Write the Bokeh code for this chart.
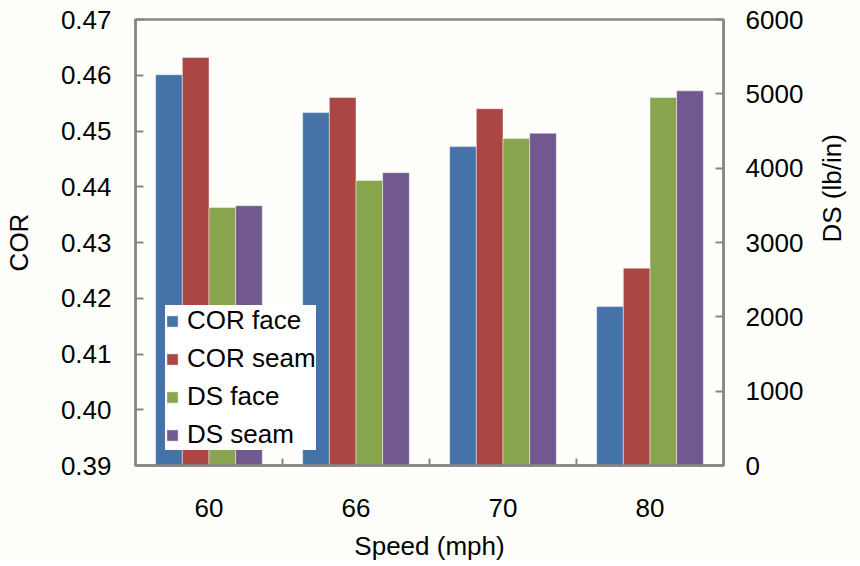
import math
from bokeh.plotting import figure
from bokeh.models import Range1d, LinearAxis, FixedTicker, NumeralTickFormatter, ColumnDataSource
from bokeh.embed import file_html
from bokeh.resources import INLINE

# ---- data ----
speeds = ["60", "66", "70", "80"]
cor_face = [0.4601, 0.4533, 0.4472, 0.4185]
cor_seam = [0.4632, 0.4560, 0.4540, 0.4254]
ds_face = [3470, 3835, 4400, 4950]
ds_seam = [3495, 3940, 4470, 5040]
cor_ticks = [0.39, 0.40, 0.41, 0.42, 0.43, 0.44, 0.45, 0.46, 0.47]
ds_ticks = [0, 1000, 2000, 3000, 4000, 5000, 6000]
series_names = ["COR face", "COR seam", "DS face", "DS seam"]
colors = ["#4572A7", "#AA4643", "#89A54E", "#71588F"]

BG = "#FEFEFA"
AX = "#878787"
FONT = "Liberation Sans"
FS = "26px"

p = figure(frame_width=588, frame_height=446,
           x_range=Range1d(0, len(speeds)), y_range=Range1d(cor_ticks[0], cor_ticks[-1]),
           output_backend="svg", toolbar_location=None,
           min_border_left=129, min_border_right=123, min_border_top=19, min_border_bottom=85,
           background_fill_color=BG, border_fill_color=BG,
           outline_line_color=AX, outline_line_width=2.5)
p.xgrid.visible = False
p.ygrid.visible = False
p.extra_y_ranges = {"ds": Range1d(ds_ticks[0], ds_ticks[-1])}

w = 0.1814
series = [(cor_face, "default"), (cor_seam, "default"), (ds_face, "ds"), (ds_seam, "ds")]
for i, (vals, rng) in enumerate(series):
    off = (i - 1.5) * w
    xs = [k + 0.5 + off for k in range(len(speeds))]
    bottom = cor_ticks[0] if rng == "default" else ds_ticks[0]
    src = ColumnDataSource(dict(x=xs, top=vals))
    p.vbar(x="x", top="top", bottom=bottom, width=w, source=src,
           fill_color=colors[i], line_color="white", line_alpha=0.45, line_width=1,
           y_range_name=rng, legend_label=series_names[i])

# x axis
xa = p.xaxis[0]
xa.ticker = FixedTicker(ticks=[k + 0.5 for k in range(len(speeds))],
                        minor_ticks=[k for k in range(1, len(speeds))])
xa.major_label_overrides = {k + 0.5: s for k, s in enumerate(speeds)}
xa.axis_label = "Speed (mph)"

# left axis
ya = p.yaxis[0]
ya.ticker = FixedTicker(ticks=cor_ticks)
ya.formatter = NumeralTickFormatter(format="0.00")
ya.axis_label = "COR"

# right axis
ra = LinearAxis(y_range_name="ds", ticker=FixedTicker(ticks=ds_ticks), axis_label="DS (lb/in)")
ra.axis_label_orientation = math.pi / 2
p.add_layout(ra, "right")

for ax in (xa, ya, ra):
    ax.axis_line_color = AX
    ax.axis_line_width = 2.5
    ax.major_tick_line_color = AX
    ax.major_tick_line_width = 2
    ax.minor_tick_line_color = None
    ax.major_tick_out = 0
    ax.major_tick_in = 8
    ax.major_label_text_font = FONT
    ax.major_label_text_font_size = FS
    ax.major_label_text_color = "black"
    ax.axis_label_text_font = FONT
    ax.axis_label_text_font_size = FS
    ax.axis_label_text_font_style = "normal"
    ax.axis_label_text_color = "black"

xa.major_tick_in = 0
xa.minor_tick_line_color = AX
xa.minor_tick_line_width = 2
xa.minor_tick_in = 7
xa.minor_tick_out = 0
xa.major_label_standoff = 33
xa.axis_label_standoff = 11

ya.major_label_standoff = 24
ya.axis_label_standoff = 24
ra.major_label_standoff = 22
ra.axis_label_standoff = 26

lg = p.legend[0]
lg.location = (30, 15)
lg.background_fill_color = "white"
lg.background_fill_alpha = 1.0
lg.border_line_color = None
lg.label_text_font = FONT
lg.label_text_font_size = FS
lg.label_text_color = "black"
lg.glyph_width = 14
lg.glyph_height = 14
lg.label_standoff = 8
lg.label_height = 20
lg.spacing = 7
lg.padding = 8
lg.margin = 0

open("out.html", "w").write(file_html(p, INLINE))
